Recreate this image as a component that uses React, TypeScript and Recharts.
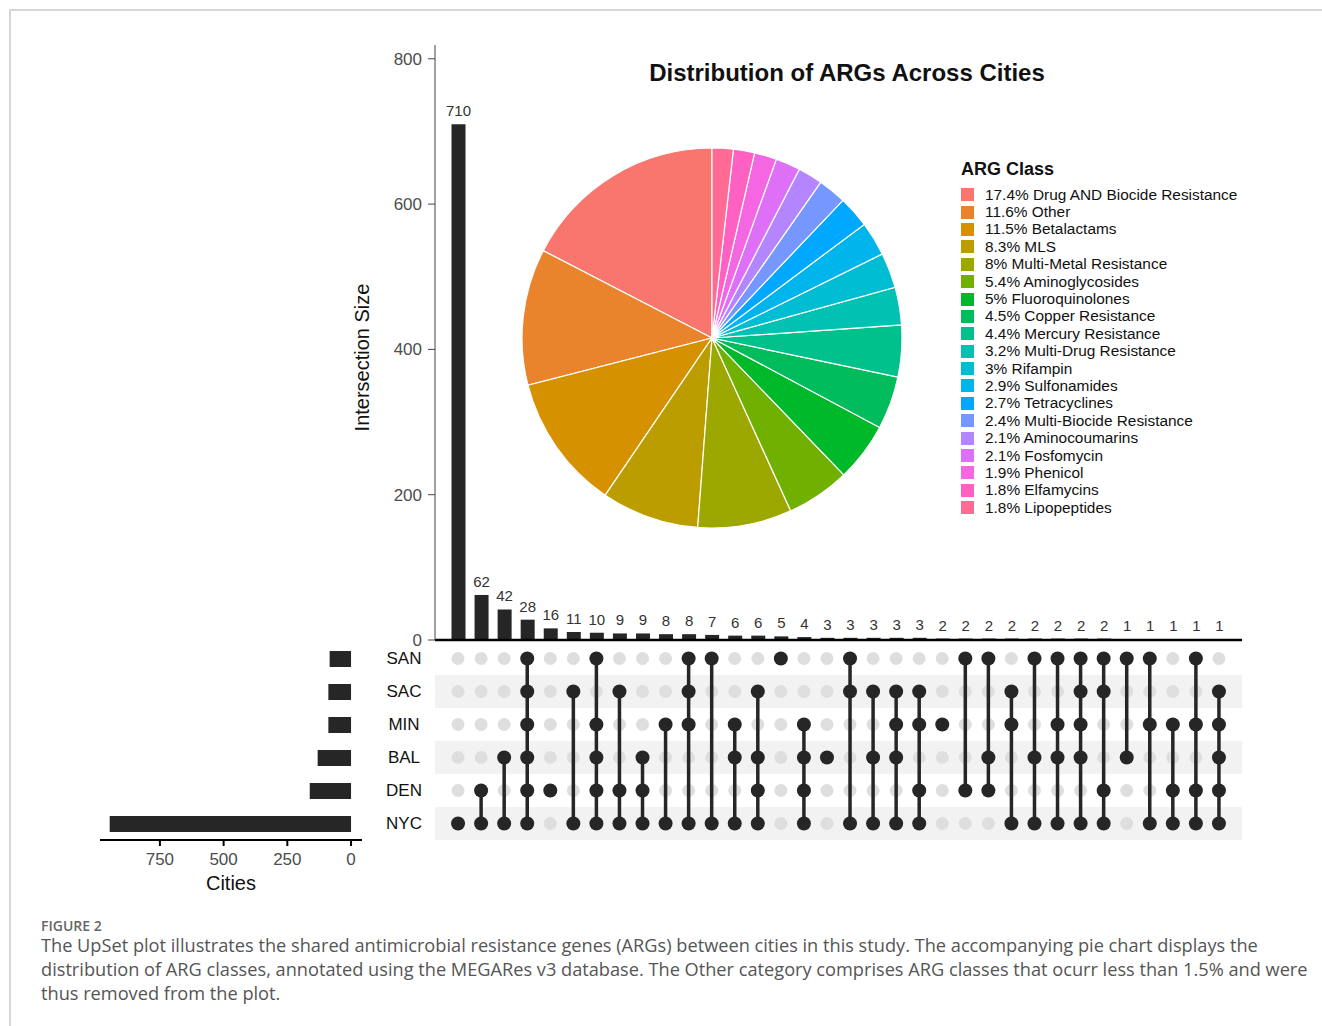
import {
  BarChart,
  Bar,
  XAxis,
  YAxis,
  LabelList,
  ReferenceLine,
  ReferenceArea,
  PieChart,
  Pie,
  Legend,
  ScatterChart,
  Scatter,
  ErrorBar,
} from "recharts";

const FONT = "'Liberation Sans', Arial, Helvetica, sans-serif";
const INK = "#262626";

// set sizes (left bars)
const cities = ["SAN", "SAC", "MIN", "BAL", "DEN", "NYC"];
const citySizes = [84, 89, 89, 131, 162, 947];
const cityTicks = [0, 250, 500, 750];

// intersections, in plot order
const intersectionSizes = [
  710, 62, 42, 28, 16, 11, 10, 9, 9, 8, 8, 7, 6, 6, 5, 4,
  3, 3, 3, 3, 3, 2, 2, 2, 2, 2, 2, 2, 2, 1, 1, 1, 1, 1,
];
const intersectionSets: string[][] = [
  ["NYC"],
  ["DEN", "NYC"],
  ["BAL", "NYC"],
  ["SAN", "SAC", "MIN", "BAL", "DEN", "NYC"],
  ["DEN"],
  ["SAC", "NYC"],
  ["SAN", "MIN", "BAL", "DEN", "NYC"],
  ["SAC", "DEN", "NYC"],
  ["BAL", "DEN", "NYC"],
  ["MIN", "NYC"],
  ["SAN", "SAC", "MIN", "NYC"],
  ["SAN", "NYC"],
  ["MIN", "BAL", "NYC"],
  ["SAC", "BAL", "DEN", "NYC"],
  ["SAN"],
  ["MIN", "BAL", "DEN", "NYC"],
  ["BAL"],
  ["SAN", "SAC", "NYC"],
  ["SAC", "BAL", "NYC"],
  ["SAC", "MIN", "BAL", "NYC"],
  ["SAC", "MIN", "DEN", "NYC"],
  ["MIN"],
  ["SAN", "DEN"],
  ["SAN", "BAL", "DEN"],
  ["SAC", "MIN", "NYC"],
  ["SAN", "BAL", "NYC"],
  ["SAN", "MIN", "BAL", "NYC"],
  ["SAN", "SAC", "MIN", "BAL", "NYC"],
  ["SAN", "SAC", "DEN", "NYC"],
  ["SAN", "BAL"],
  ["SAN", "MIN", "NYC"],
  ["MIN", "DEN", "NYC"],
  ["SAN", "MIN", "DEN", "NYC"],
  ["SAC", "MIN", "BAL", "DEN", "NYC"],
];
const sizeTicks = [0, 200, 400, 600, 800];

// pie
const argClasses = [
  "Drug AND Biocide Resistance",
  "Other",
  "Betalactams",
  "MLS",
  "Multi-Metal Resistance",
  "Aminoglycosides",
  "Fluoroquinolones",
  "Copper Resistance",
  "Mercury Resistance",
  "Multi-Drug Resistance",
  "Rifampin",
  "Sulfonamides",
  "Tetracyclines",
  "Multi-Biocide Resistance",
  "Aminocoumarins",
  "Fosfomycin",
  "Phenicol",
  "Elfamycins",
  "Lipopeptides",
];
const argShares = [17.4, 11.6, 11.5, 8.3, 8, 5.4, 5, 4.5, 4.4, 3.2, 3, 2.9, 2.7, 2.4, 2.1, 2.1, 1.9, 1.8, 1.8];
const argColors = [
  "#F8766D", "#E9842C", "#D59100", "#BC9D00", "#9CA700", "#6FB000", "#00B92A",
  "#00BC5C", "#00C08B", "#00C1B2", "#00BDD1", "#00B5EB", "#00A8FF", "#7597FF",
  "#B385FF", "#DE70F8", "#F566E3", "#FF61C3", "#FF6B94",
];

const barData = intersectionSizes.map((size, i) => ({ id: `i${i}`, size }));
const cityData = cities.map((city, i) => ({ city, size: citySizes[i] }));
const pieData = argClasses.map((name, i) => ({
  label: `${argShares[i]}% ${name}`,
  value: argShares[i],
  fill: argColors[i],
}));

const allCells = intersectionSets.flatMap((_, col) => cities.map((_, row) => ({ x: col, y: row })));
const memberCells = intersectionSets.flatMap((set, col) =>
  set.map((c) => ({ x: col, y: cities.indexOf(c) }))
);
const spans = intersectionSets
  .map((set, col) => {
    const rows = set.map((c) => cities.indexOf(c));
    const lo = Math.min(...rows);
    const hi = Math.max(...rows);
    return { x: col, y: (lo + hi) / 2, err: (hi - lo) / 2 };
  })
  .filter((d) => d.err > 0);

// legend keeps the data order (recharts would sort it by name)
function ArgLegend() {
  return (
    <div style={{ fontFamily: FONT, color: "#111" }}>
      <div style={{ fontSize: 18, fontWeight: 700, marginBottom: 6 }}>ARG Class</div>
      {pieData.map((d) => (
        <div key={d.label} style={{ display: "flex", alignItems: "center", height: 17.4, fontSize: 15.4 }}>
          <span style={{ width: 13, height: 13, background: d.fill, marginRight: 11 }} />
          <span>{d.label}</span>
        </div>
      ))}
    </div>
  );
}

function CityTick(props: any) {
  const { x, y, payload } = props;
  return (
    <text x={x + 42} y={y} textAnchor="middle" dominantBaseline="central" fontSize={17} fill="#111" fontFamily={FONT}>
      {payload.value}
    </text>
  );
}

const matrixAxes = [
  <XAxis key="x" type="number" dataKey="x" domain={[-1, 34]} hide />,
  <YAxis key="y" type="number" dataKey="y" domain={[-0.5, 5.5]} reversed hide />,
];

export default function App() {
  return (
    <div style={{ position: "absolute", left: 0, top: 0, width: 1322, height: 1026, background: "#fff", overflow: "hidden" }}>
      {/* card frame */}
      <div style={{ position: "absolute", left: 9, top: 9, width: 1313, height: 1017, borderTop: "2px solid #d6d6d6", borderLeft: "2px solid #d6d6d6" }} />

      {/* intersection size bars */}
      <div style={{ position: "absolute", left: 340, top: 40 }}>
        <BarChart width={910} height={612} data={barData} margin={{ top: 5, right: 8, bottom: 12, left: 35 }} barSize={14}>
          <XAxis dataKey="id" type="category" hide padding={{ left: 11.5, right: 11.5 }} />
          <YAxis
            type="number"
            domain={[0, 819]}
            ticks={sizeTicks}
            width={60}
            axisLine={{ stroke: "#444" }}
            tickLine={{ stroke: "#444" }}
            tickSize={7}
            tickMargin={6}
            tick={{ fontSize: 17, fill: "#4d4d4d", fontFamily: FONT }}
            label={{
              content: ({ viewBox }: any) => {
                const cx = viewBox.x - 13;
                const cy = viewBox.y + viewBox.height / 2 + 15;
                return (
                  <text x={cx} y={cy} transform={`rotate(-90 ${cx} ${cy})`} textAnchor="middle" dominantBaseline="central" fontSize={20} fill="#111" fontFamily={FONT}>
                    Intersection Size
                  </text>
                );
              },
            }}
          />
          <ReferenceLine y={0} stroke="#000" strokeWidth={2.5} />
          <Bar dataKey="size" fill={INK} isAnimationActive={false}>
            <LabelList dataKey="size" position="top" offset={8} style={{ fontSize: 15, fill: "#333", fontFamily: FONT }} />
          </Bar>
        </BarChart>
      </div>

      {/* pie title */}
      <div style={{ position: "absolute", left: 547, width: 600, top: 59, textAlign: "center", fontFamily: FONT, fontWeight: 700, fontSize: 24, color: "#111" }}>
        Distribution of ARGs Across Cities
      </div>

      {/* pie + legend */}
      <div style={{ position: "absolute", left: 512, top: 138 }}>
        <PieChart width={740} height={400} margin={{ top: 0, right: 0, bottom: 0, left: 0 }}>
          <Pie
            data={pieData}
            dataKey="value"
            nameKey="label"
            cx={200}
            cy={200}
            outerRadius={190}
            startAngle={90}
            endAngle={450}
            stroke="#fff"
            strokeWidth={1.2}
            isAnimationActive={false}
          />
          <Legend
            layout="vertical"
            align="right"
            verticalAlign="top"
            content={<ArgLegend />}
            wrapperStyle={{ position: "absolute", left: 449, top: 21, width: 300 }}
          />
        </PieChart>
      </div>

      {/* matrix: background stripes and empty cells */}
      <div style={{ position: "absolute", left: 435, top: 642 }}>
        <ScatterChart width={807} height={198} margin={{ top: 0, right: 0, bottom: 0, left: 0 }}>
          {matrixAxes}
          <ReferenceArea y1={0.5} y2={1.5} fill="#f2f2f2" fillOpacity={1} stroke="none" />
          <ReferenceArea y1={2.5} y2={3.5} fill="#f2f2f2" fillOpacity={1} stroke="none" />
          <ReferenceArea y1={4.5} y2={5.5} fill="#f2f2f2" fillOpacity={1} stroke="none" />
          <Scatter
            data={allCells}
            isAnimationActive={false}
            shape={(p: any) => <circle cx={p.cx} cy={p.cy} r={6.5} fill="#dedede" />}
          />
        </ScatterChart>
      </div>

      {/* matrix: connecting lines and member cells, drawn on top */}
      <div style={{ position: "absolute", left: 435, top: 642 }}>
        <ScatterChart width={807} height={198} margin={{ top: 0, right: 0, bottom: 0, left: 0 }}>
          {matrixAxes}
          <Scatter data={spans} isAnimationActive={false} shape={() => <g />}>
            <ErrorBar dataKey="err" direction="y" width={0} stroke={INK} strokeWidth={3.5} isAnimationActive={false} />
          </Scatter>
          <Scatter
            data={memberCells}
            isAnimationActive={false}
            shape={(p: any) => <circle cx={p.cx} cy={p.cy} r={7} fill={INK} />}
          />
        </ScatterChart>
      </div>

      {/* set sizes */}
      <div style={{ position: "absolute", left: 90, top: 630 }}>
        <BarChart width={345} height={275} data={cityData} layout="vertical" margin={{ top: 12, right: 0, bottom: 5, left: 10 }} barSize={16}>
          <XAxis
            type="number"
            dataKey="size"
            domain={[-43, 985]}
            reversed
            ticks={cityTicks}
            height={60}
            axisLine={{ stroke: "#000", strokeWidth: 2 }}
            tickLine={{ stroke: "#000", strokeWidth: 2 }}
            tickSize={6}
            tickMargin={7}
            tick={{ fontSize: 17, fill: "#4d4d4d", fontFamily: FONT }}
            label={{ value: "Cities", position: "insideBottom", offset: 10, style: { fontSize: 20, fill: "#111", fontFamily: FONT } }}
          />
          <YAxis type="category" dataKey="city" orientation="right" width={73} axisLine={false} tickLine={false} tickSize={0} tickMargin={0} tick={<CityTick />} />
          <Bar dataKey="size" fill={INK} isAnimationActive={false} />
        </BarChart>
      </div>

      {/* caption */}
      <div style={{ position: "absolute", left: 41, top: 918, fontFamily: "'Open Sans', sans-serif", color: "#666", fontSize: 14, lineHeight: "16px", fontWeight: 600 }}>
        FIGURE 2
      </div>
      <div style={{ position: "absolute", left: 41, top: 933, fontFamily: "'Open Sans', sans-serif", color: "#555", fontSize: 18.2, lineHeight: "24px", whiteSpace: "nowrap" }}>
        <div>The UpSet plot illustrates the shared antimicrobial resistance genes (ARGs) between cities in this study. The accompanying pie chart displays the</div>
        <div>distribution of ARG classes, annotated using the MEGARes v3 database. The Other category comprises ARG classes that ocurr less than 1.5% and were</div>
        <div>thus removed from the plot.</div>
      </div>
    </div>
  );
}
